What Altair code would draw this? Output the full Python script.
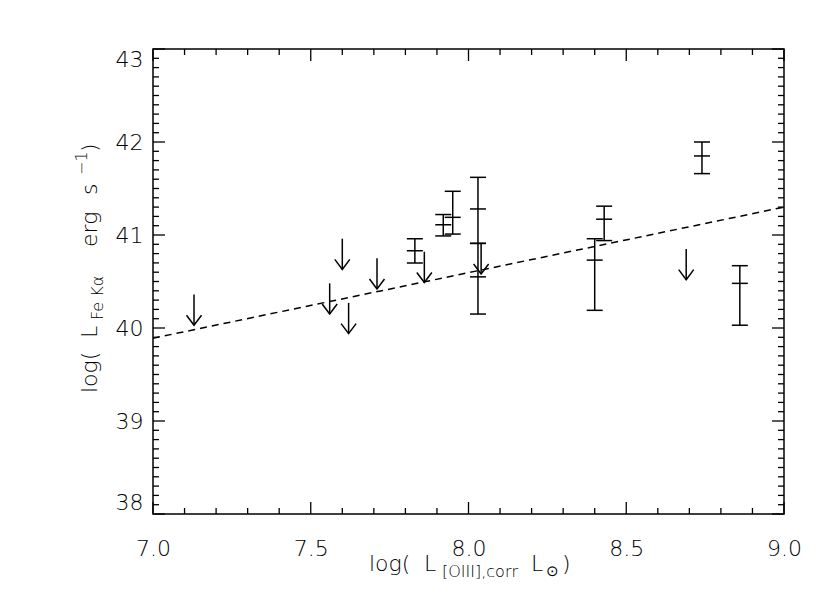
import altair as alt
import pandas as pd

# ---- data ----
# detections with error bars
det_x = [7.83, 7.92, 7.95, 8.03, 8.03, 8.40, 8.43, 8.74, 8.86]
det_y = [40.83, 41.11, 41.19, 41.28, 40.55, 40.73, 41.17, 41.85, 40.48]
det_lo = [40.70, 40.99, 41.01, 40.91, 40.15, 40.19, 40.94, 41.66, 40.03]
det_hi = [40.96, 41.22, 41.47, 41.62, 40.91, 40.96, 41.31, 42.00, 40.67]

# upper limits (arrow starts at the limit)
ul_x = [7.13, 7.56, 7.60, 7.62, 7.71, 7.86, 8.04, 8.69]
ul_y = [40.36, 40.48, 40.96, 40.27, 40.75, 40.82, 40.91, 40.85]
ARROW_LEN = 0.33

# dashed fit line end points
fit_x = [7.0, 9.0]
fit_y = [39.89, 41.30]

# axis tick values
x_major = [7.0, 7.5, 8.0, 8.5, 9.0]
y_major = [38, 39, 40, 41, 42, 43]
x_minor = [7.1, 7.2, 7.3, 7.4, 7.6, 7.7, 7.8, 7.9, 8.1, 8.2, 8.3, 8.4,
           8.6, 8.7, 8.8, 8.9]
y_minor = [round(m + f / 10, 1) for m in y_major[:-1] for f in range(1, 10)]

det = pd.DataFrame({"x": det_x, "y": det_y, "lo": det_lo, "hi": det_hi})
ul = pd.DataFrame({"x": ul_x, "y": ul_y})
fit = pd.DataFrame({"x": fit_x, "y": fit_y})

FONT = "DejaVu Sans"
FW = 200
W, H = 631, 465
MAJ, MIN = 12, 6

XS = alt.Scale(domain=[7, 9], nice=False, zero=False)
YS = alt.Scale(domain=[38, 43], nice=False, zero=False)

AX_X = alt.Axis(orient="bottom", domain=False, grid=False, ticks=False, title=None,
                values=x_major, format=".1f", labelFont=FONT, labelFontSize=22,
                labelFontWeight=FW, labelColor="black", labelFlush=False,
                labelPadding=24, labelBaseline="top")
AX_Y = alt.Axis(orient="left", domain=False, grid=False, ticks=False, title=None,
                values=y_major, format="d", labelFont=FONT, labelFontSize=22,
                labelFontWeight=FW, labelColor="black", labelFlush=True,
                labelPadding=10)

base_det = alt.Chart(det)

errbar = base_det.mark_rule(color="black", strokeWidth=1.5).encode(
    x=alt.X("x:Q", scale=XS, axis=AX_X),
    y=alt.Y("lo:Q", scale=YS, axis=AX_Y),
    y2="hi:Q",
)


def cap(field):
    return base_det.mark_tick(orient="horizontal", size=16, thickness=1.5,
                              color="black", opacity=1).encode(
        x=alt.X("x:Q", scale=XS, axis=None),
        y=alt.Y(f"{field}:Q", scale=YS, axis=None),
    )


base_ul = alt.Chart(ul).transform_calculate(tip=f"datum.y - {ARROW_LEN}")
shaft = base_ul.mark_rule(color="black", strokeWidth=1.5).encode(
    x=alt.X("x:Q", scale=XS, axis=None),
    y=alt.Y("y:Q", scale=YS, axis=None),
    y2="tip:Q",
)
head = base_ul.mark_point(shape="M-0.75,-1L0,0L0.75,-1", size=400, filled=False,
                          stroke="black", strokeWidth=1.5, opacity=1).encode(
    x=alt.X("x:Q", scale=XS, axis=None),
    y=alt.Y("tip:Q", scale=YS, axis=None),
)

fitline = alt.Chart(fit).mark_line(color="black", strokeWidth=1.5, strokeDash=[7, 5]).encode(
    x=alt.X("x:Q", scale=XS, axis=None),
    y=alt.Y("y:Q", scale=YS, axis=None),
)


# inward tick marks on all four sides, placed through the scales
def xticks(vals, length, side):
    y0, y1 = (H - length, H) if side == "bottom" else (0, length)
    return alt.Chart(pd.DataFrame({"v": vals})).mark_rule(color="black", strokeWidth=1.3).encode(
        x=alt.X("v:Q", scale=XS, axis=None), y=alt.value(y0), y2=alt.value(y1))


def yticks(vals, length, side):
    x0, x1 = (0, length) if side == "left" else (W - length, W)
    return alt.Chart(pd.DataFrame({"v": vals})).mark_rule(color="black", strokeWidth=1.3).encode(
        y=alt.Y("v:Q", scale=YS, axis=None), x=alt.value(x0), x2=alt.value(x1))


ticks = [
    xticks(x_major, MAJ, "bottom"), xticks(x_major, MAJ, "top"),
    xticks(x_minor, MIN, "bottom"), xticks(x_minor, MIN, "top"),
    yticks(y_major, MAJ, "left"), yticks(y_major, MAJ, "right"),
    yticks(y_minor, MIN, "left"), yticks(y_minor, MIN, "right"),
]

one = pd.DataFrame({"k": [0]})


def piece(txt, x, y, size, angle=0):
    kw = dict(text=txt, font=FONT, fontSize=size, fontWeight=FW, color="black",
              align="left", baseline="alphabetic")
    if angle:
        kw["angle"] = angle
    return alt.Chart(one).mark_text(**kw).encode(x=alt.value(x), y=alt.value(y))


# x-axis title: log(L_[OIII],corr L_sun)
xt = [
    piece("log(", 216, 522, 22),
    piece("L", 271, 522, 22),
    piece("[OIII],corr", 289, 528, 16),
    piece("L", 378, 522, 22),
    piece("\u2299", 393, 527, 15),
    piece(")", 409, 522, 22),
]
# y-axis title: log(L_Fe Ka erg s^-1), rotated
yt = [
    piece("log(", -56, 344, 22, 270),
    piece("L", -56, 289, 22, 270),
    piece("Fe K\u03b1", -50, 271, 16, 270),
    piece("erg", -56, 198, 22, 270),
    piece("s", -56, 146, 22, 270),
    piece("\u22121", -66, 126, 16, 270),
    piece(")", -56, 103, 22, 270),
]

chart = alt.layer(errbar, cap("lo"), cap("hi"), cap("y"), shaft, head, fitline,
                  *ticks, *xt, *yt).resolve_axis(
    x="independent", y="independent"
).properties(
    width=W, height=H,
    autosize=alt.AutoSizeParams(type="none"),
    padding={"left": 145, "top": 41, "right": 30, "bottom": 70},
    background="white",
).configure_view(stroke="black", strokeWidth=1.5)

chart.save("out.html", embed_options={"renderer": "svg", "actions": False})
